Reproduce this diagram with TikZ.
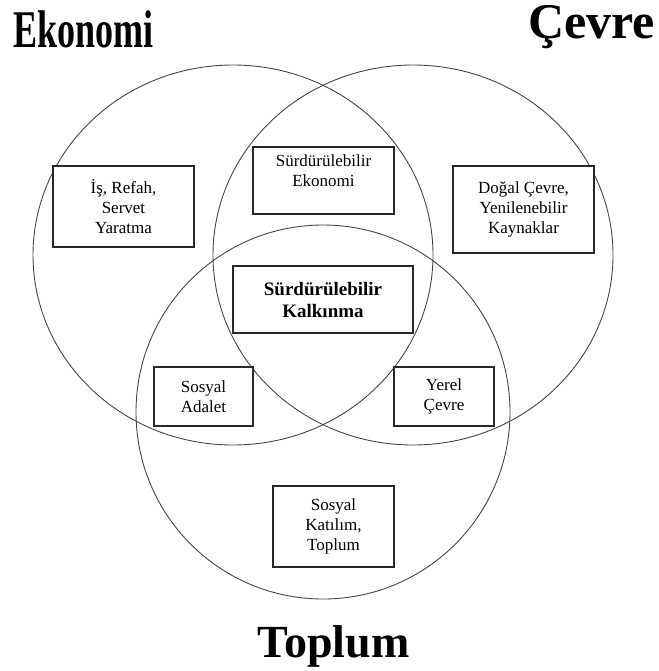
\documentclass[tikz,border=0pt]{standalone}
\usepackage{fontspec}
\setmainfont{Liberation Serif}
\usepackage{graphicx}
\usepackage{tikz}
\definecolor{Ring}{RGB}{70,70,70}
\definecolor{Frame}{RGB}{40,40,40}

\begin{document}
\begin{tikzpicture}[x=1pt,y=-1pt,
  ring/.style={draw=Ring,line width=0.9pt},
  area/.style={draw=Frame,line width=1.1pt,fill=white,align=center,inner sep=0pt,
    font=\fontsize{17}{20}\selectfont},
  core/.style={area,font=\bfseries\fontsize{19}{22}\selectfont},
  title/.style={inner sep=0pt,font=\bfseries\fontsize{50}{50}\selectfont}]
\useasboundingbox (0,0) rectangle (658,671);
% three rings
\draw[ring] (233,255) ellipse [x radius=200,y radius=190];
\draw[ring] (413,255) ellipse [x radius=200,y radius=190];
\draw[ring] (323,412) circle [radius=187];
% boxes in the regions
\node[area,minimum width=141,minimum height=81] (wealth) at (123.5,206.5) {İş, Refah,\\Servet\\Yaratma};
\node[area,minimum width=141,minimum height=67] (seco) at (323.5,180.5) {Sürdürülebilir\\Ekonomi\\\mbox{}};
\node[area,minimum width=141,minimum height=87] (nature) at (523.5,209.5) {Doğal Çevre,\\Yenilenebilir\\Kaynaklar};
\node[core,minimum width=180,minimum height=67] (sdev) at (323,299.5) {Sürdürülebilir\\Kalkınma};
\node[area,minimum width=99,minimum height=59] (justice) at (203.5,396.5) {Sosyal\\Adalet};
\node[area,minimum width=100,minimum height=59] (local) at (444,396.5) {Yerel\\Çevre};
\node[area,minimum width=121,minimum height=81] (part) at (333.5,526.5) {Sosyal\\Katılım,\\Toplum};
% ring titles
\node[title,anchor=base west] (eko) at (13,48) {\scalebox{0.68}[1]{\fontsize{53}{53}\selectfont Ekonomi}};
\node[title,anchor=base east] (env) at (655,39) {Çevre};
\node[title,anchor=base,font=\bfseries\fontsize{46}{46}\selectfont] (soc) at (333.5,657) {Toplum};
\end{tikzpicture}
\end{document}
